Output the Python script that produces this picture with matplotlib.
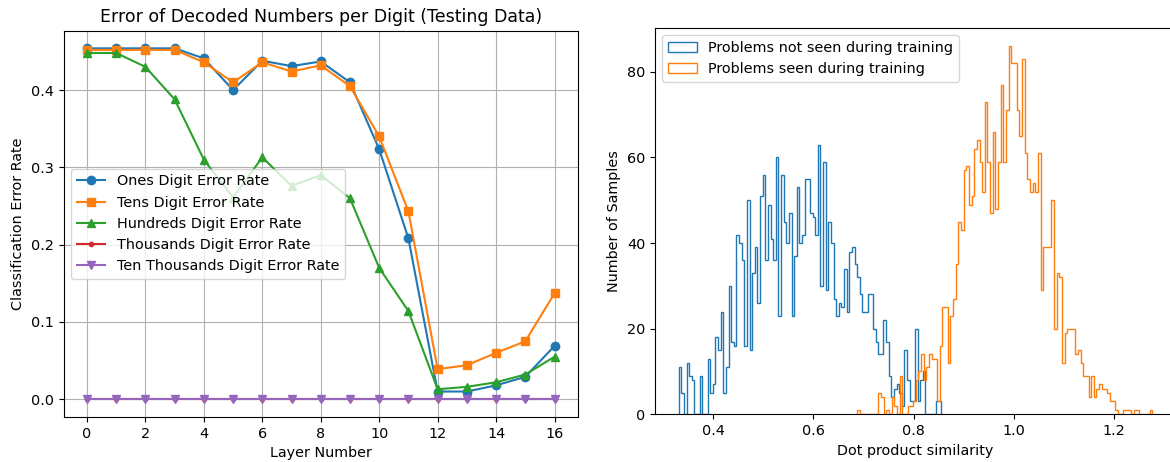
import numpy as np
import matplotlib
matplotlib.use("Agg")
import matplotlib.pyplot as plt

plt.rcParams["font.size"] = 10.4

# ---- Left panel: per-digit classification error by layer ----
layers = list(range(17))
ones_err = [0.454, 0.454, 0.454, 0.454, 0.441, 0.400, 0.438, 0.431, 0.437,
            0.410, 0.3235, 0.208, 0.010, 0.010, 0.018, 0.029, 0.069]
tens_err = [0.452, 0.452, 0.452, 0.452, 0.436, 0.410, 0.436, 0.424, 0.432,
            0.405, 0.340, 0.243, 0.039, 0.044, 0.060, 0.075, 0.137]
hundreds_err = [0.448, 0.448, 0.430, 0.388, 0.310, 0.261, 0.313, 0.276, 0.290,
                0.260, 0.170, 0.114, 0.013, 0.016, 0.022, 0.032, 0.055]
thousands_err = [0.0] * 17
ten_thousands_err = [0.0] * 17

# ---- Right panel: dot product similarity histograms (counts per bin) ----
unseen_range = (0.3315, 0.855)
unseen_counts = [
    11, 5, 0, 12, 9, 8, 0, 0, 9, 0,
    0, 13, 5, 7, 18, 15, 24, 5, 11, 30,
    17, 16, 42, 40, 36, 16, 50, 15, 33, 39,
    26, 51, 56, 36, 49, 41, 36, 60, 23, 56,
    45, 40, 47, 23, 37, 53, 40, 42, 55, 55,
    47, 46, 42, 63, 30, 59, 29, 45, 40, 27,
    23, 26, 25, 34, 24, 38, 39, 35, 32, 28,
    24, 24, 28, 28, 20, 17, 14, 14, 22, 17,
    9, 4, 6, 7, 5, 2, 15, 8, 3, 3,
    20, 3, 8, 10, 0, 0, 0, 0, 3, 3,
]

seen_range = (0.6875, 1.276)
seen_counts = [
    1, 0, 0, 0, 0, 0, 0, 0, 5, 4,
    0, 1, 0, 4, 2, 0, 9, 0, 0, 2,
    2, 3, 8, 10, 14, 8, 11, 14, 13, 13,
    3, 16, 25, 25, 12, 23, 27, 35, 45, 43,
    57, 58, 49, 51, 62, 64, 59, 52, 73, 59,
    47, 66, 48, 59, 77, 59, 71, 86, 82, 82,
    71, 65, 83, 61, 55, 52, 54, 52, 61, 29,
    39, 39, 39, 50, 20, 33, 32, 12, 19, 20,
    20, 20, 14, 15, 12, 9, 9, 4, 9, 4,
    6, 7, 6, 6, 5, 3, 3, 1, 0, 0,
    1, 1, 1, 0, 1, 1, 0, 0, 0, 0,
    1,
]

fig = plt.figure(figsize=(11.7, 4.62), dpi=100)

# Left axes
ax1 = fig.add_axes([63.6 / 1170, 1 - 416.8 / 462, 514.3 / 1170, 386.0 / 462])
ax1.plot(layers, ones_err, marker="o", color="#1f77b4", label="Ones Digit Error Rate")
ax1.plot(layers, tens_err, marker="s", color="#ff7f0e", label="Tens Digit Error Rate")
ax1.plot(layers, hundreds_err, marker="^", color="#2ca02c", label="Hundreds Digit Error Rate")
ax1.plot(layers, thousands_err, marker=".", color="#d62728", label="Thousands Digit Error Rate")
ax1.plot(layers, ten_thousands_err, marker="v", color="#9467bd",
         label="Ten Thousands Digit Error Rate")
ax1.set_title("Error of Decoded Numbers per Digit (Testing Data)", fontsize=12.5)
ax1.set_xlabel("Layer Number")
ax1.set_ylabel("Classification Error Rate")
ax1.set_xticks(range(0, 17, 2))
ax1.grid(True)
ax1.legend(loc="center left")

# Right axes (extends slightly past the right edge of the canvas)
ax2 = fig.add_axes([655.0 / 1170, 1 - 414.3 / 462, 521.0 / 1170, 386.5 / 462])


def draw_hist(ax, counts, lo, hi, color, label):
    edges = np.linspace(lo, hi, len(counts) + 1)
    centers = 0.5 * (edges[:-1] + edges[1:])
    ax.hist(centers, bins=edges, weights=counts, histtype="step",
            color=color, label=label)


draw_hist(ax2, unseen_counts, *unseen_range, "#1f77b4", "Problems not seen during training")
draw_hist(ax2, seen_counts, *seen_range, "#ff7f0e", "Problems seen during training")
ax2.set_xlabel("Dot product similarity")
ax2.set_ylabel("Number of Samples")
ax2.set_xticks([0.4, 0.6, 0.8, 1.0, 1.2])
ax2.legend(loc="upper left")

fig.savefig("out.png", dpi=100)
